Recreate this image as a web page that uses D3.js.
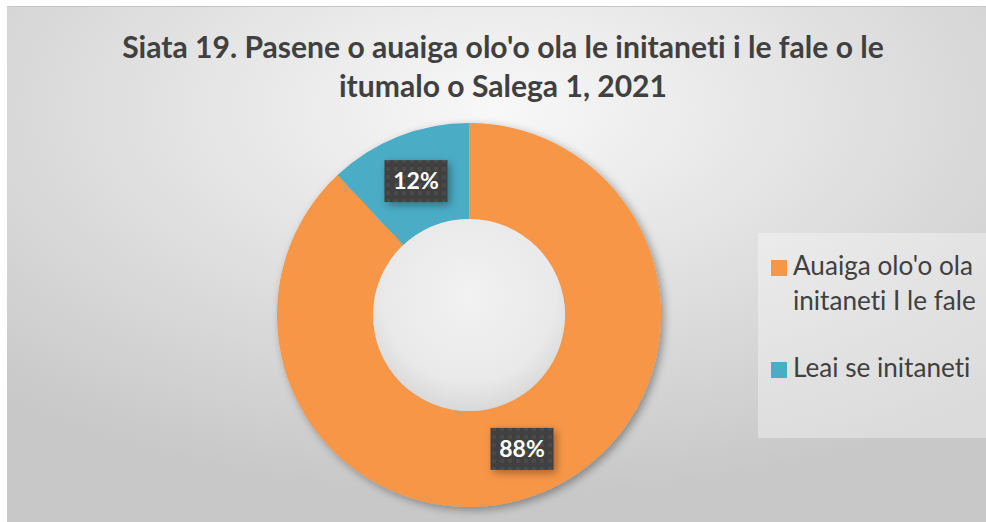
<!DOCTYPE html>
<html>
<head>
<meta charset="utf-8">
<script src="https://cdn.jsdelivr.net/npm/d3@7"></script>
<style>
  body { margin: 0; background: #fff; }
  svg { display: block; }
  text { font-family: Lato, "Open Sans", sans-serif; font-variant-ligatures: none; font-feature-settings: "liga" 0; }
</style>
</head>
<body>
<svg id="donut" width="986" height="522"></svg>
<script>
var titleLines = ["Siata 19. Pasene o auaiga olo'o ola le initaneti i le fale o le",
                  "itumalo o Salega 1, 2021"];
var categories = ["Auaiga olo'o ola initaneti I le fale", "Leai se initaneti"];
var legendLines = [["Auaiga olo'o ola", "initaneti I le fale"], ["Leai se initaneti"]];
var values = [88, 12];
var colors = ["#F79646", "#4BACC6"];

var svg = d3.select("svg#donut"),
    W = +svg.attr("width"), H = +svg.attr("height");

var defs = svg.append("defs");

// background radial gradient
var bg = defs.append("radialGradient").attr("id", "bgGrad")
    .attr("cx", "50%").attr("cy", "20%").attr("r", "75%")
    .attr("gradientUnits", "objectBoundingBox");
bg.append("stop").attr("offset", "0%").attr("stop-color", "#f8f8f8");
bg.append("stop").attr("offset", "100%").attr("stop-color", "#c8c8c8");

var hole = defs.append("radialGradient").attr("id", "holeGrad")
    .attr("cx", "50%").attr("cy", "40%").attr("r", "60%");
hole.append("stop").attr("offset", "0%").attr("stop-color", "#f2f2f2");
hole.append("stop").attr("offset", "75%").attr("stop-color", "#e9e9e9");
hole.append("stop").attr("offset", "100%").attr("stop-color", "#d8d8d8");

var shadow = defs.append("filter").attr("id", "shadow")
    .attr("x", "-20%").attr("y", "-20%").attr("width", "150%").attr("height", "150%");
shadow.append("feDropShadow").attr("dx", 3).attr("dy", 3).attr("stdDeviation", 4)
    .attr("flood-color", "#000").attr("flood-opacity", 0.35);

var pat = defs.append("pattern").attr("id", "dots")
    .attr("width", 8).attr("height", 8).attr("patternUnits", "userSpaceOnUse");
pat.append("rect").attr("width", 8).attr("height", 8).attr("fill", "#3f3f3f");
pat.append("circle").attr("cx", 4).attr("cy", 4).attr("r", 2.2).attr("fill", "#4b4b4b");

// chart area
svg.append("rect").attr("x", 7).attr("y", 6).attr("width", W - 7).attr("height", H - 6)
    .attr("fill", "url(#bgGrad)");
svg.append("line").attr("x1", 7).attr("x2", W).attr("y1", 6.5).attr("y2", 6.5)
    .attr("stroke", "#c4c4c4").attr("stroke-width", 1);

// title
var title = svg.append("text")
    .attr("text-anchor", "middle")
    .attr("fill", "#404040")
    .style("font-weight", "bold")
    .style("font-size", "27px");
title.selectAll("tspan").data(titleLines).enter().append("tspan")
    .attr("x", 503)
    .attr("y", function(d, i) { return 58 + i * 39; })
    .text(function(d) { return d; });
// fit title width
var tw = title.select("tspan").node().getComputedTextLength();
title.style("font-size", (27 * 762 / tw) + "px");

// donut
var cx = 469, cy = 315, outerR = 192, innerR = 96;
var pie = d3.pie().sort(null).value(function(d) { return d; });
var arc = d3.arc().innerRadius(innerR).outerRadius(outerR);
var arcs = pie(values);

var g = svg.append("g").attr("transform", "translate(" + cx + "," + cy + ")");
g.append("g").attr("filter", "url(#shadow)")
  .selectAll("path").data(arcs).enter().append("path")
    .attr("d", arc)
    .attr("fill", function(d, i) { return colors[i]; });
g.append("circle").attr("r", innerR).attr("fill", "url(#holeGrad)");

// data labels
var lab = g.selectAll(".lab").data(arcs).enter().append("g")
    .attr("class", "lab")
    .attr("transform", function(d) { var c = arc.centroid(d); return "translate(" + c[0] + "," + c[1] + ")"; });
lab.append("rect")
    .attr("x", -31.5).attr("y", -21).attr("width", 63).attr("height", 42)
    .attr("fill", "url(#dots)")
    .attr("filter", "url(#shadow)");
lab.append("text")
    .attr("text-anchor", "middle")
    .attr("dy", "0.36em")
    .attr("fill", "#fff")
    .style("font-weight", "bold")
    .style("font-size", "23px")
    .text(function(d) { return d.data + "%"; });

// legend
svg.append("rect").attr("x", 758).attr("y", 233).attr("width", W - 758).attr("height", 205)
    .attr("fill", "#fff").attr("fill-opacity", 0.35);
var legend = svg.selectAll(".legend").data(categories).enter().append("g")
    .attr("class", "legend")
    .attr("transform", function(d, i) { return "translate(771," + (i === 0 ? 260 : 362) + ")"; });
legend.append("rect").attr("width", 16).attr("height", 16)
    .attr("fill", function(d, i) { return colors[i]; });
var lt = legend.append("text")
    .attr("fill", "#404040")
    .style("font-size", "22px");
lt.selectAll("tspan").data(function(d, i) { return legendLines[i]; }).enter().append("tspan")
    .attr("x", 22)
    .attr("y", function(d, i) { return 15 + i * 35; })
    .text(function(d) { return d; });
var lw = lt.select("tspan").node().getComputedTextLength();
lt.style("font-size", (22 * 180 / lw) + "px");
</script>
</body>
</html>
